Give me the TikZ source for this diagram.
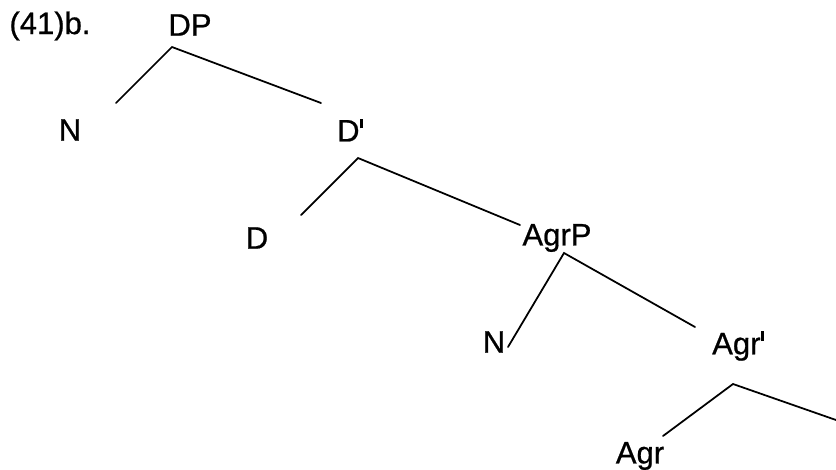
\documentclass[tikz,border=0pt]{standalone}
\usepackage{fontspec}
\setmainfont{Liberation Sans}[BoldFont={Liberation Sans},BoldFeatures={FakeBold=0.7}]
\usepackage{tikz}
\newcommand{\pr}{\kern0.6pt\rule[0.42em]{2.2pt}{0.32em}}
\tikzset{
 lb/.style={inner sep=0pt,font=\fontsize{26.5}{30}\selectfont\bfseries},
 br/.style={line width=1.5pt,line cap=round}}

\begin{document}
\begin{tikzpicture}[x=0.03cm,y=-0.03cm]
 \useasboundingbox (0,0) rectangle (836,469);
 \node[lb] (ex) at (50,26) {(41)b.};
 \node[lb] (dp) at (190,25) {DP};
 \node[lb] (n1) at (70,130) {N};
 \node[lb] (d1) at (350,130) {D\pr};
 \node[lb] (d) at (257,238) {D};
 \node[lb] (agrp) at (557,238) {AgrP};
 \node[lb] (n2) at (494,342) {N};
 \node[lb] (agr1) at (738,346) {Agr\pr};
 \node[lb] (agr) at (640,456) {Agr};
 \coordinate (t1) at (172,47);
 \coordinate (t2) at (358,158);
 \coordinate (t3) at (564,253);
 \coordinate (t4) at (733,384);
 \coordinate (e4) at (836,420);
 \draw[br] (116,103)--(t1)--(321,103);
 \draw[br] (301,215)--(t2)--(520,225);
 \draw[br] (508,347)--(t3)--(695,327);
 \draw[br] (663,436)--(t4)--(e4);
\end{tikzpicture}
\end{document}
